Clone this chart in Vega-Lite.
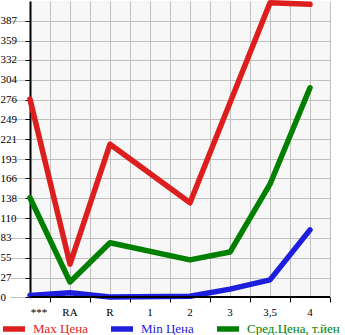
{
  "$schema": "https://vega.github.io/schema/vega-lite/v6.json",
  "width": 300,
  "height": 296,
  "padding": 0,
  "background": "#ffffff",
  "config": {
    "view": {"fill": "#f7f7f7", "stroke": null},
    "font": "Liberation Serif",
    "axisY": {
      "grid": true,
      "gridColor": "#c0c0c0",
      "gridWidth": 1,
      "domain": true,
      "domainColor": "#000000",
      "domainWidth": 2,
      "tickColor": "#000000",
      "tickSize": 5,
      "labelAlign": "left",
      "labelPadding": 25,
      "labelColor": "#000000",
      "labelFont": "Liberation Serif",
      "labelFontSize": 11,
      "labelOverlap": false,
      "labelBound": false,
      "title": null,
      "zindex": 1
    }
  },
  "data": {
    "values": [
      {"cat": "***", "series": "Max Цена", "value": 277},
      {"cat": "RA", "series": "Max Цена", "value": 46},
      {"cat": "R", "series": "Max Цена", "value": 214},
      {"cat": "2", "series": "Max Цена", "value": 132},
      {"cat": "3", "series": "Max Цена", "value": 272},
      {"cat": "3,5", "series": "Max Цена", "value": 412},
      {"cat": "4", "series": "Max Цена", "value": 410},
      {"cat": "***", "series": "Min Цена", "value": 2},
      {"cat": "RA", "series": "Min Цена", "value": 6},
      {"cat": "R", "series": "Min Цена", "value": 0},
      {"cat": "2", "series": "Min Цена", "value": 1},
      {"cat": "3", "series": "Min Цена", "value": 11},
      {"cat": "3,5", "series": "Min Цена", "value": 24},
      {"cat": "4", "series": "Min Цена", "value": 94},
      {"cat": "***", "series": "Сред.Цена, т.йен", "value": 139},
      {"cat": "RA", "series": "Сред.Цена, т.йен", "value": 21},
      {"cat": "R", "series": "Сред.Цена, т.йен", "value": 76},
      {"cat": "2", "series": "Сред.Цена, т.йен", "value": 52},
      {"cat": "3", "series": "Сред.Цена, т.йен", "value": 63},
      {"cat": "3,5", "series": "Сред.Цена, т.йен", "value": 158},
      {"cat": "4", "series": "Сред.Цена, т.йен", "value": 293}
    ]
  },
  "resolve": {"scale": {"x": "shared"}, "axis": {"x": "independent"}},
  "layer": [
    {
      "mark": {"type": "point", "opacity": 0},
      "encoding": {
        "x": {
          "field": "cat",
          "type": "ordinal",
          "scale": {"type": "band", "domain": ["***", "RA", "R", "1", "2", "3", "3,5", "4"], "range": [-20, 300], "paddingInner": 0, "paddingOuter": 0},
          "axis": {"orient": "top", "bandPosition": 0.5, "grid": true, "gridColor": "#c0c0c0", "gridWidth": 1, "labels": false, "ticks": false, "domain": false, "title": null}
        }
      }
    },
    {
      "mark": {"type": "line", "strokeWidth": 5.5, "strokeCap": "round", "strokeJoin": "round"},
      "encoding": {
        "x": {
          "field": "cat",
          "type": "ordinal",
          "sort": ["***", "RA", "R", "1", "2", "3", "3,5", "4"],
          "axis": {
            "orient": "bottom",
            "bandPosition": 1,
            "labelAngle": 0,
            "grid": true,
            "gridColor": "#c0c0c0",
            "gridWidth": 1,
            "domain": false,
            "tickColor": "#000000",
            "tickSize": 5,
            "tickWidth": 1,
            "labelColor": "#000000",
            "labelFont": "Liberation Serif",
            "labelFontSize": 11,
            "labelPadding": 4,
            "labelOverlap": false,
            "labelBound": false,
            "labelFlush": false,
            "labelOffset": {"condition": {"test": "datum.value === '***'", "value": 9}, "value": 0},
            "title": null
          }
        },
        "y": {
          "field": "value",
          "type": "quantitative",
          "scale": {"domain": [0, 414.6], "nice": false},
          "axis": {"values": [0, 27, 55, 83, 110, 138, 166, 193, 221, 249, 276, 304, 332, 359, 387]}
        },
        "color": {
          "field": "series",
          "type": "nominal",
          "scale": {"domain": ["Max Цена", "Min Цена", "Сред.Цена, т.йен"], "range": ["#dd1e1e", "#1e1edd", "#007f00"]},
          "legend": {
            "orient": "none",
            "legendX": -30,
            "legendY": 314,
            "direction": "horizontal",
            "title": null,
            "symbolType": "stroke",
            "symbolStrokeWidth": 5.5,
            "symbolSize": 484,
            "labelFont": "Liberation Serif",
            "labelFontSize": 13,
            "labelOffset": 5,
            "columnPadding": 12,
            "encode": {"labels": {"update": {"fill": {"signal": "scale('color', datum.value)"}}}}
          }
        }
      }
    },
    {
      "mark": {"type": "rule", "color": "#000000", "strokeWidth": 2},
      "encoding": {
        "y": {"datum": 0, "type": "quantitative", "axis": {"values": [0, 27, 55, 83, 110, 138, 166, 193, 221, 249, 276, 304, 332, 359, 387]}}
      }
    }
  ]
}
